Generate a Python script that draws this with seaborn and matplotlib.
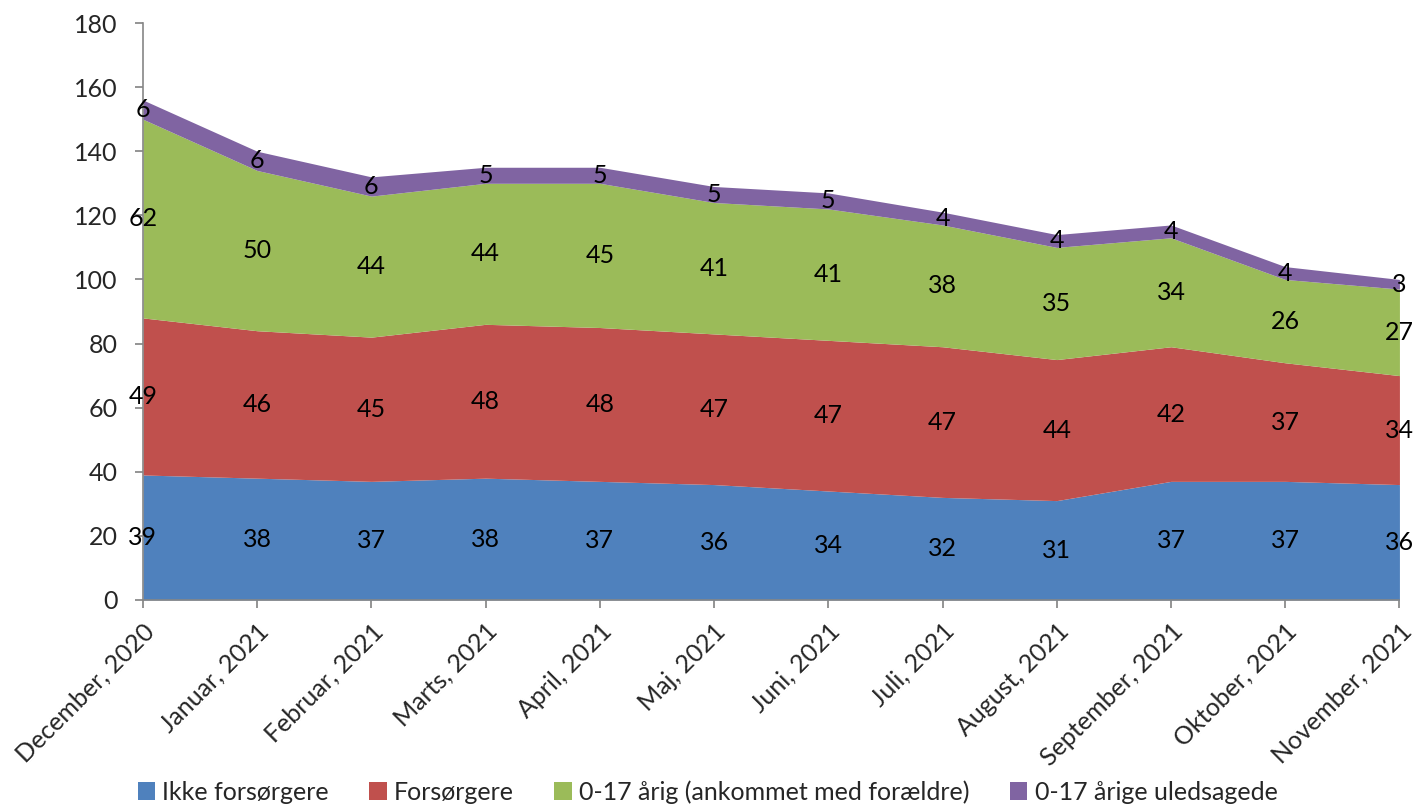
import matplotlib
matplotlib.use("Agg")
import matplotlib.pyplot as plt
import seaborn as sns
import numpy as np
from matplotlib.patches import Patch

months = ["December, 2020", "Januar, 2021", "Februar, 2021", "Marts, 2021", "April, 2021",
          "Maj, 2021", "Juni, 2021", "Juli, 2021", "August, 2021", "September, 2021",
          "Oktober, 2021", "November, 2021"]
ikke_forsorgere = [39, 38, 37, 38, 37, 36, 34, 32, 31, 37, 37, 36]
forsorgere = [49, 46, 45, 48, 48, 47, 47, 47, 44, 42, 37, 34]
born_m_foraeldre = [62, 50, 44, 44, 45, 41, 41, 38, 35, 34, 26, 27]
born_uledsagede = [6, 6, 6, 5, 5, 5, 5, 4, 4, 4, 4, 3]
series_names = ["Ikke forsørgere", "Forsørgere", "0-17 årig (ankommet med forældre)", "0-17 årige uledsagede"]
yticks = [0, 20, 40, 60, 80, 100, 120, 140, 160, 180]

colors = ["#4F81BD", "#C0504D", "#9BBB59", "#8064A2"]

sns.set_theme(style="white")
plt.rcParams['font.family'] = ['Lato', 'DejaVu Sans']

fig = plt.figure(figsize=(14.15, 8.05), dpi=100)
ax = fig.add_axes([0.101, 0.2547, 0.888, 0.7167])

x = np.arange(len(months))
series = [ikke_forsorgere, forsorgere, born_m_foraeldre, born_uledsagede]
ax.stackplot(x, *series, colors=colors, linewidth=0)

bottom = np.zeros(len(months))
for s in series:
    s = np.array(s)
    for xi, (b, v) in enumerate(zip(bottom, s)):
        ax.text(xi, b + v / 2, str(v), ha="center", va="center", fontsize=18, color="black")
    bottom += s

ax.set_xlim(0, len(months) - 1)
ax.set_ylim(0, 180)
ax.set_yticks(yticks)
ax.set_xticks(x)
ax.set_xticklabels(months, rotation=45, ha="right", rotation_mode="anchor", fontsize=18)
ax.tick_params(axis="y", labelsize=18, length=6, color="#868686", left=True, direction="out", pad=12)
ax.tick_params(axis="x", length=6, color="#868686", bottom=True, direction="out", pad=8)
for sp in ["top", "right"]:
    ax.spines[sp].set_visible(False)
for sp in ["left", "bottom"]:
    ax.spines[sp].set_color("#868686")
    ax.spines[sp].set_linewidth(1.2)
ax.grid(False)

handles = [Patch(facecolor=c, edgecolor="none") for c in colors]
fig.legend(handles, series_names, loc="center", bbox_to_anchor=(0.5, 0.016), ncol=4,
           frameon=False, fontsize=18, handlelength=0.7, handleheight=0.7, handletextpad=0.3,
           columnspacing=1.6)

fig.savefig("out.png", dpi=100)
